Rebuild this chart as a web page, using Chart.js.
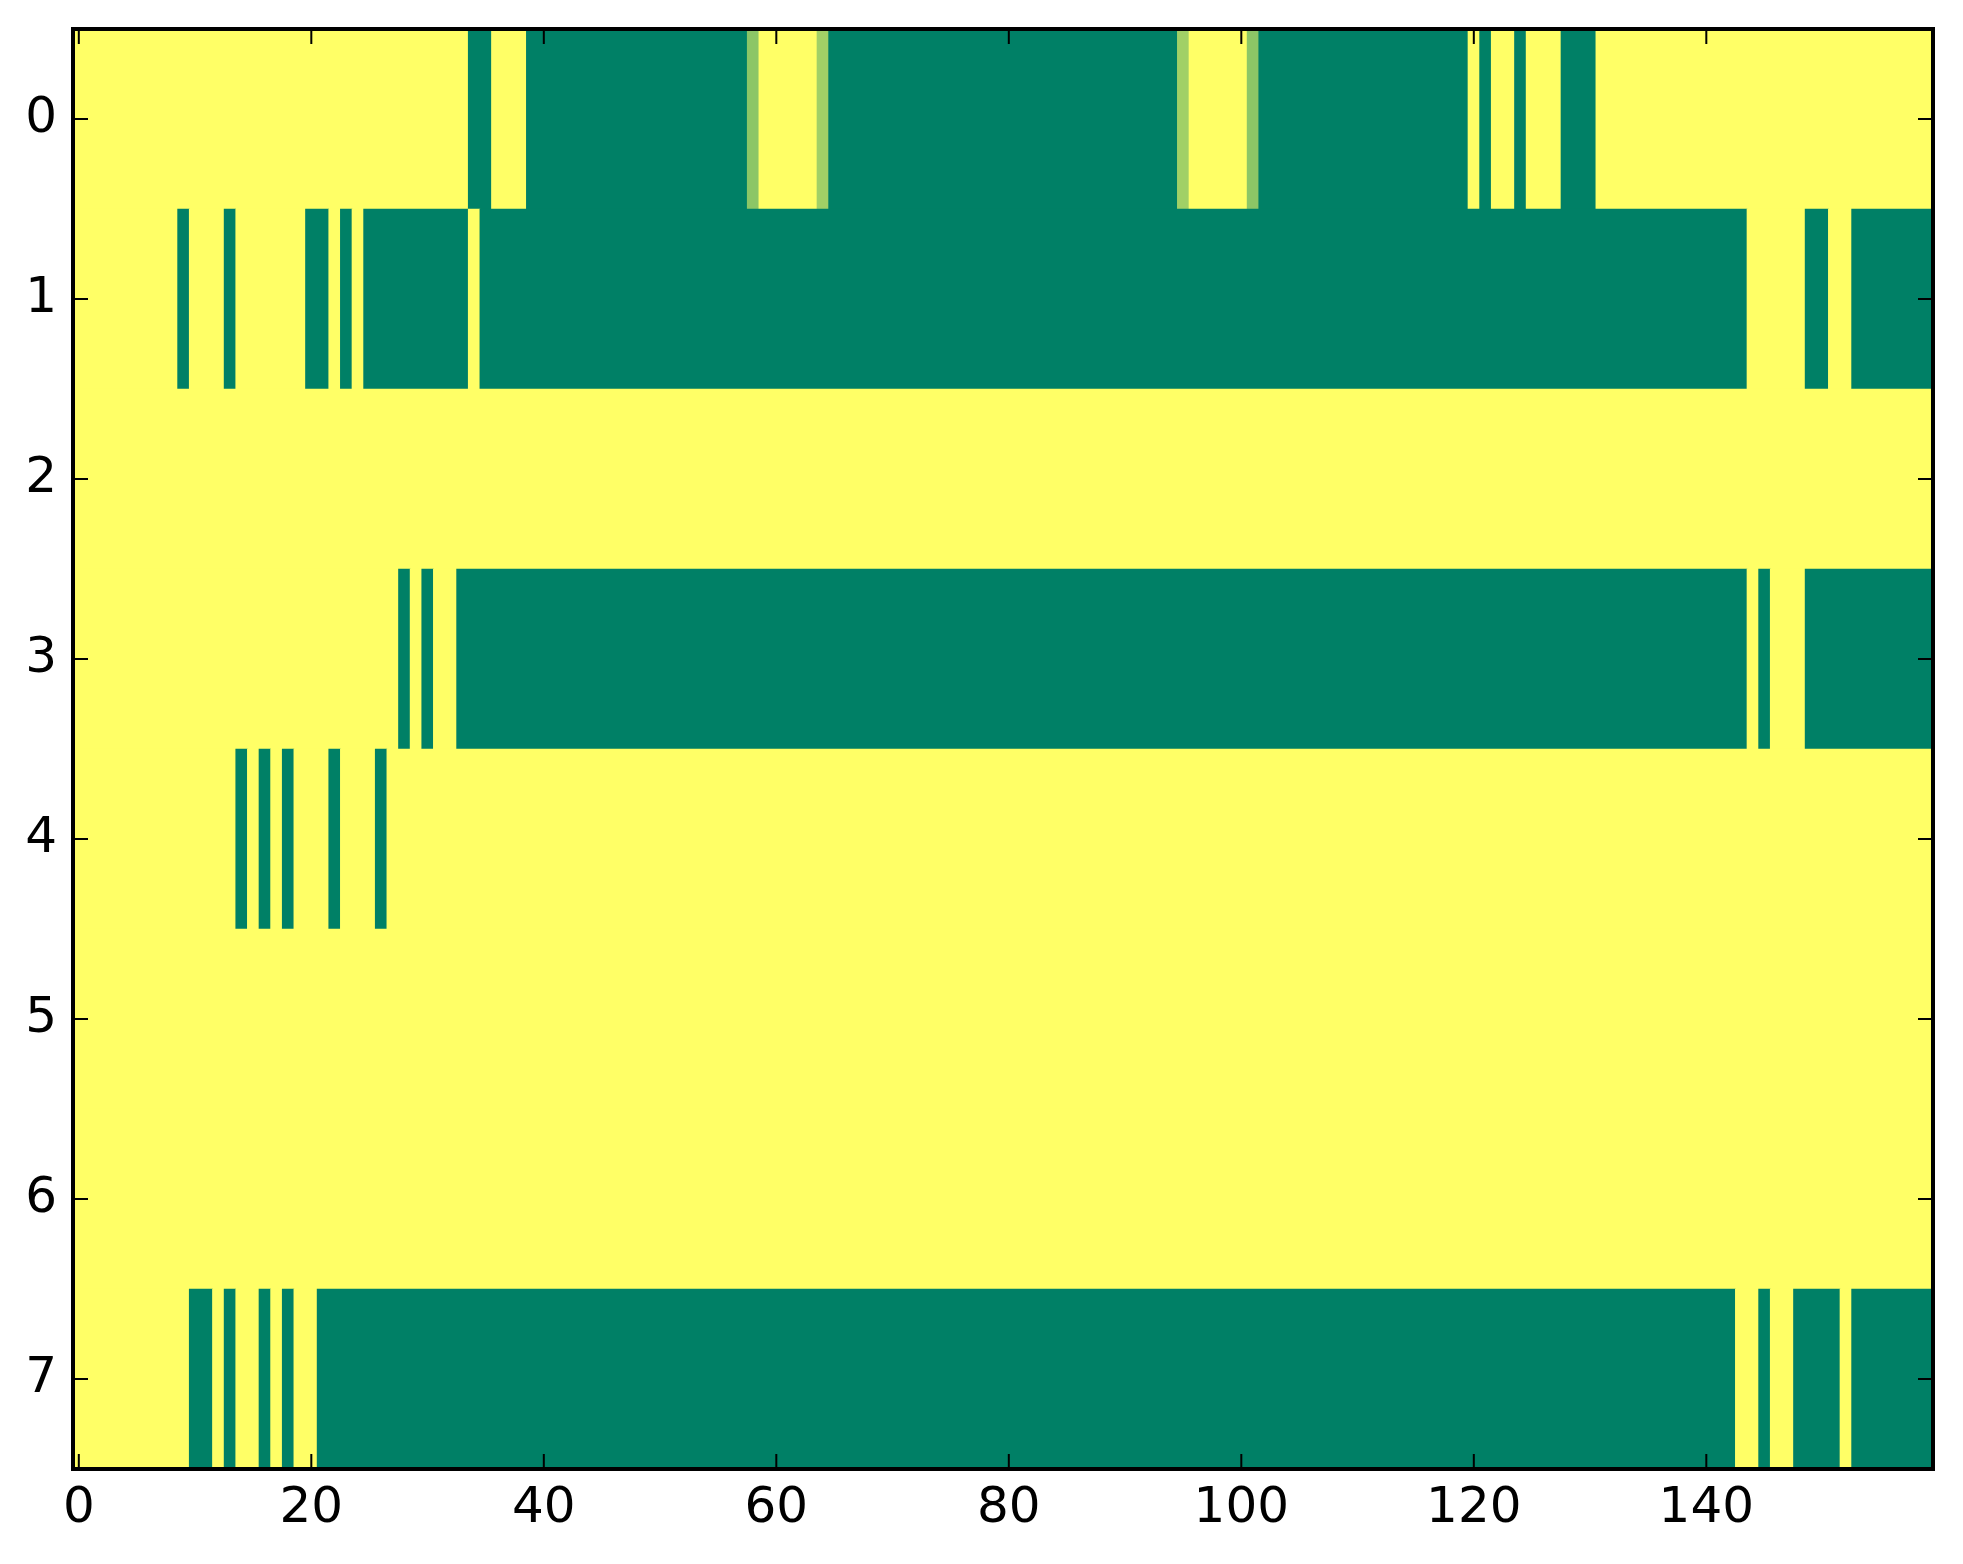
<!DOCTYPE html>
<html>
<head>
<meta charset="utf-8">
<script src="https://cdn.jsdelivr.net/npm/chart.js@4"></script>
<style>
  html, body { margin: 0; padding: 0; background: #fff; }
  #c { display: block; }
</style>
</head>
<body>
<canvas id="c" width="1963" height="1564"></canvas>
<script>
// ---- data (1 = yellow / high, 0 = green / low) ----
const rowLabels = ['0', '1', '2', '3', '4', '5', '6', '7'];
const xTicks = [0, 20, 40, 60, 80, 100, 120, 140];

const row0 = [
  1,1,1,1,1,1,1,1,1,1,
  1,1,1,1,1,1,1,1,1,1,
  1,1,1,1,1,1,1,1,1,1,
  1,1,1,1,0,0,1,1,1,0,
  0,0,0,0,0,0,0,0,0,0,
  0,0,0,0,0,0,0,0,0.55,1,
  1,1,1,1,0.63,0,0,0,0,0,
  0,0,0,0,0,0,0,0,0,0,
  0,0,0,0,0,0,0,0,0,0,
  0,0,0,0,0,0.63,1,1,1,1,
  1,0.55,0,0,0,0,0,0,0,0,
  0,0,0,0,0,0,0,0,0,0,
  1,0,1,1,0,1,1,1,0,0,
  0,1,1,1,1,1,1,1,1,1,
  1,1,1,1,1,1,1,1,1,1,
  1,1,1,1,1,1,1,1,1,1
];
const row1 = [
  1,1,1,1,1,1,1,1,1,0,
  1,1,1,0,1,1,1,1,1,1,
  0,0,1,0,1,0,0,0,0,0,
  0,0,0,0,1,0,0,0,0,0,
  0,0,0,0,0,0,0,0,0,0,
  0,0,0,0,0,0,0,0,0,0,
  0,0,0,0,0,0,0,0,0,0,
  0,0,0,0,0,0,0,0,0,0,
  0,0,0,0,0,0,0,0,0,0,
  0,0,0,0,0,0,0,0,0,0,
  0,0,0,0,0,0,0,0,0,0,
  0,0,0,0,0,0,0,0,0,0,
  0,0,0,0,0,0,0,0,0,0,
  0,0,0,0,0,0,0,0,0,0,
  0,0,0,0,1,1,1,1,1,0,
  0,1,1,0,0,0,0,0,0,0
];
const row2 = [
  1,1,1,1,1,1,1,1,1,1,
  1,1,1,1,1,1,1,1,1,1,
  1,1,1,1,1,1,1,1,1,1,
  1,1,1,1,1,1,1,1,1,1,
  1,1,1,1,1,1,1,1,1,1,
  1,1,1,1,1,1,1,1,1,1,
  1,1,1,1,1,1,1,1,1,1,
  1,1,1,1,1,1,1,1,1,1,
  1,1,1,1,1,1,1,1,1,1,
  1,1,1,1,1,1,1,1,1,1,
  1,1,1,1,1,1,1,1,1,1,
  1,1,1,1,1,1,1,1,1,1,
  1,1,1,1,1,1,1,1,1,1,
  1,1,1,1,1,1,1,1,1,1,
  1,1,1,1,1,1,1,1,1,1,
  1,1,1,1,1,1,1,1,1,1
];
const row3 = [
  1,1,1,1,1,1,1,1,1,1,
  1,1,1,1,1,1,1,1,1,1,
  1,1,1,1,1,1,1,1,0,1,
  0,1,1,0,0,0,0,0,0,0,
  0,0,0,0,0,0,0,0,0,0,
  0,0,0,0,0,0,0,0,0,0,
  0,0,0,0,0,0,0,0,0,0,
  0,0,0,0,0,0,0,0,0,0,
  0,0,0,0,0,0,0,0,0,0,
  0,0,0,0,0,0,0,0,0,0,
  0,0,0,0,0,0,0,0,0,0,
  0,0,0,0,0,0,0,0,0,0,
  0,0,0,0,0,0,0,0,0,0,
  0,0,0,0,0,0,0,0,0,0,
  0,0,0,0,1,0,1,1,1,0,
  0,0,0,0,0,0,0,0,0,0
];
const row4 = [
  1,1,1,1,1,1,1,1,1,1,
  1,1,1,1,0,1,0,1,0,1,
  1,1,0,1,1,1,0,1,1,1,
  1,1,1,1,1,1,1,1,1,1,
  1,1,1,1,1,1,1,1,1,1,
  1,1,1,1,1,1,1,1,1,1,
  1,1,1,1,1,1,1,1,1,1,
  1,1,1,1,1,1,1,1,1,1,
  1,1,1,1,1,1,1,1,1,1,
  1,1,1,1,1,1,1,1,1,1,
  1,1,1,1,1,1,1,1,1,1,
  1,1,1,1,1,1,1,1,1,1,
  1,1,1,1,1,1,1,1,1,1,
  1,1,1,1,1,1,1,1,1,1,
  1,1,1,1,1,1,1,1,1,1,
  1,1,1,1,1,1,1,1,1,1
];
const row5 = [
  1,1,1,1,1,1,1,1,1,1,
  1,1,1,1,1,1,1,1,1,1,
  1,1,1,1,1,1,1,1,1,1,
  1,1,1,1,1,1,1,1,1,1,
  1,1,1,1,1,1,1,1,1,1,
  1,1,1,1,1,1,1,1,1,1,
  1,1,1,1,1,1,1,1,1,1,
  1,1,1,1,1,1,1,1,1,1,
  1,1,1,1,1,1,1,1,1,1,
  1,1,1,1,1,1,1,1,1,1,
  1,1,1,1,1,1,1,1,1,1,
  1,1,1,1,1,1,1,1,1,1,
  1,1,1,1,1,1,1,1,1,1,
  1,1,1,1,1,1,1,1,1,1,
  1,1,1,1,1,1,1,1,1,1,
  1,1,1,1,1,1,1,1,1,1
];
const row6 = [
  1,1,1,1,1,1,1,1,1,1,
  1,1,1,1,1,1,1,1,1,1,
  1,1,1,1,1,1,1,1,1,1,
  1,1,1,1,1,1,1,1,1,1,
  1,1,1,1,1,1,1,1,1,1,
  1,1,1,1,1,1,1,1,1,1,
  1,1,1,1,1,1,1,1,1,1,
  1,1,1,1,1,1,1,1,1,1,
  1,1,1,1,1,1,1,1,1,1,
  1,1,1,1,1,1,1,1,1,1,
  1,1,1,1,1,1,1,1,1,1,
  1,1,1,1,1,1,1,1,1,1,
  1,1,1,1,1,1,1,1,1,1,
  1,1,1,1,1,1,1,1,1,1,
  1,1,1,1,1,1,1,1,1,1,
  1,1,1,1,1,1,1,1,1,1
];
const row7 = [
  1,1,1,1,1,1,1,1,1,1,
  0,0,1,0,1,1,0,1,0,1,
  1,0,0,0,0,0,0,0,0,0,
  0,0,0,0,0,0,0,0,0,0,
  0,0,0,0,0,0,0,0,0,0,
  0,0,0,0,0,0,0,0,0,0,
  0,0,0,0,0,0,0,0,0,0,
  0,0,0,0,0,0,0,0,0,0,
  0,0,0,0,0,0,0,0,0,0,
  0,0,0,0,0,0,0,0,0,0,
  0,0,0,0,0,0,0,0,0,0,
  0,0,0,0,0,0,0,0,0,0,
  0,0,0,0,0,0,0,0,0,0,
  0,0,0,0,0,0,0,0,0,0,
  0,0,0,1,1,0,1,1,0,0,
  0,0,1,0,0,0,0,0,0,0
];
const rows = [row0, row1, row2, row3, row4, row5, row6, row7];

// matplotlib "summer" colormap
function summer(v) {
  const r = Math.round(255 * v);
  const g = Math.round(255 * (0.5 + 0.5 * v));
  return 'rgb(' + r + ',' + g + ',102)';
}

// one floating bar per run of equal cells
const cells = [];
rows.forEach((vals, r) => {
  let start = 0;
  for (let c = 1; c <= vals.length; c++) {
    if (c === vals.length || vals[c] !== vals[start]) {
      cells.push({ y: rowLabels[r], x: [start - 0.5, c - 0.5], v: vals[start] });
      start = c;
    }
  }
});

const FONT = { family: 'DejaVu Sans', size: 50 };

const axisDecor = {
  id: 'axisDecor',
  afterDatasetsDraw(chart) {
    const { ctx, chartArea: a, scales: { x, y } } = chart;
    const L = 15;
    ctx.save();
    ctx.strokeStyle = '#000';
    ctx.lineWidth = 2;
    ctx.beginPath();
    x.ticks.forEach(t => {
      const px = x.getPixelForValue(t.value);
      ctx.moveTo(px, a.bottom); ctx.lineTo(px, a.bottom - L);
      ctx.moveTo(px, a.top); ctx.lineTo(px, a.top + L);
    });
    y.ticks.forEach((t, i) => {
      const py = y.getPixelForTick(i);
      ctx.moveTo(a.left, py); ctx.lineTo(a.left + L, py);
      ctx.moveTo(a.right, py); ctx.lineTo(a.right - L, py);
    });
    ctx.stroke();
    ctx.lineWidth = 4;
    ctx.strokeRect(a.left, a.top, a.right - a.left, a.bottom - a.top);
    ctx.restore();
  }
};

new Chart(document.getElementById('c'), {
  type: 'bar',
  data: {
    labels: rowLabels,
    datasets: [{
      data: cells,
      backgroundColor: ctx => summer(ctx.raw ? ctx.raw.v : 0),
      borderWidth: 0,
      barPercentage: 1,
      categoryPercentage: 1
    }]
  },
  options: {
    indexAxis: 'y',
    responsive: false,
    animation: false,
    devicePixelRatio: 1,
    layout: { padding: { top: 29, right: 30, left: 0, bottom: 0 } },
    plugins: { legend: { display: false }, tooltip: { enabled: false } },
    scales: {
      x: {
        type: 'linear',
        min: -0.5,
        max: 159.5,
        afterBuildTicks: s => { s.ticks = xTicks.map(v => ({ value: v })); },
        afterFit: s => { s.height = 95; s.paddingLeft = 0; s.paddingRight = 0; },
        grid: { display: false, drawTicks: false, tickLength: 0 },
        border: { display: false },
        ticks: { font: FONT, color: '#000', padding: 10, maxRotation: 0, autoSkip: false }
      },
      y: {
        type: 'category',
        offset: true,
        afterFit: s => { s.width = 73; s.paddingTop = 0; s.paddingBottom = 0; },
        grid: { display: false, drawTicks: false, tickLength: 0 },
        border: { display: false },
        ticks: { font: FONT, color: '#000', padding: 16 }
      }
    }
  },
  plugins: [axisDecor]
});
</script>
</body>
</html>
